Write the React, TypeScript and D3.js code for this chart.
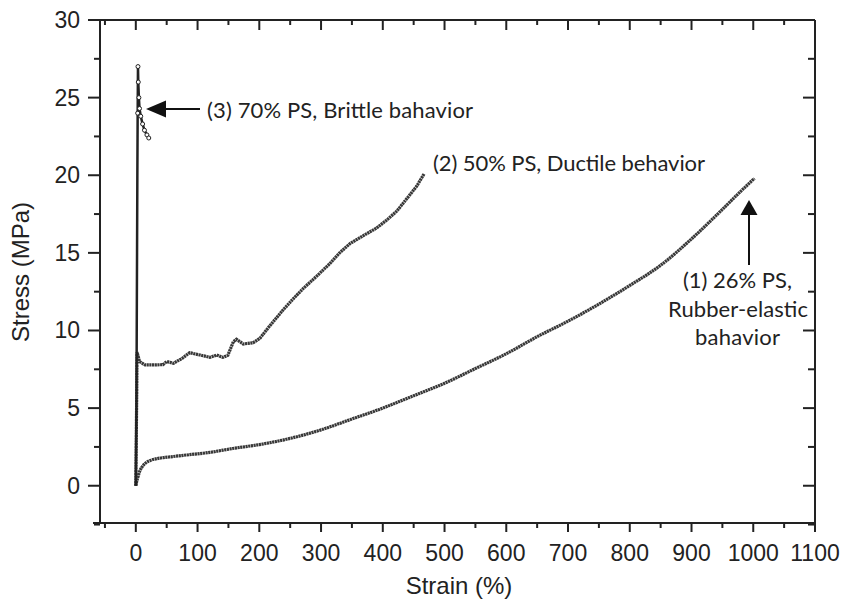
import React from "react";
import * as d3 from "d3";

const xTicks = [0, 100, 200, 300, 400, 500, 600, 700, 800, 900, 1000, 1100];
const xMinorTicks = [-50, 50, 150, 250, 350, 450, 550, 650, 750, 850, 950, 1050];
const yTicks = [0, 5, 10, 15, 20, 25, 30];
const yMinorTicks = [-2.5, 2.5, 7.5, 12.5, 17.5, 22.5, 27.5];

// (1) 26% PS — strain (%), stress (MPa)
const s1Strain = [0, 1, 3, 6, 10, 17, 25, 39, 60, 82, 120, 157, 200, 250, 300, 350, 400, 450, 500, 550, 600, 650, 700, 750, 800, 850, 900, 950, 978, 1002];
const s1Stress = [0, 0.2, 0.5, 0.9, 1.2, 1.5, 1.65, 1.78, 1.88, 1.98, 2.15, 2.4, 2.65, 3.05, 3.6, 4.3, 5.0, 5.8, 6.6, 7.55, 8.5, 9.6, 10.6, 11.7, 12.9, 14.2, 15.9, 17.8, 18.9, 19.8];

// (2) 50% PS
const s2Strain = [0, 0.5, 1, 1.5, 2, 6, 15, 28, 44, 50, 61, 75, 87, 104, 120, 131, 141, 149, 158, 163, 174, 190, 201, 217, 238, 254, 271, 293, 314, 330, 347, 368, 390, 406, 423, 439, 455, 467];
const s2Stress = [0, 2, 4, 6, 8.6, 8.0, 7.78, 7.78, 7.8, 8.0, 7.89, 8.2, 8.57, 8.42, 8.27, 8.42, 8.27, 8.4, 9.28, 9.43, 9.13, 9.21, 9.5, 10.3, 11.3, 12.0, 12.7, 13.5, 14.3, 15.0, 15.6, 16.1, 16.6, 17.1, 17.7, 18.5, 19.3, 20.1];

// (3) 70% PS
const s3Strain = [0, 1, 1.5, 2, 2.5, 3, 3.5, 4, 5, 6, 8, 11, 14, 18, 21];
const s3Stress = [0, 5, 10, 15, 20, 24, 27, 26, 25, 24.3, 23.8, 23.3, 22.9, 22.6, 22.4];

const W = 845;
const H = 601;

export default function App() {
  const x = d3.scaleLinear().domain([-58, 1100]).range([100, 815]);
  const y = d3.scaleLinear().domain([-2.4, 30]).range([523, 20]);
  const line = d3
    .line<[number, number]>()
    .x((d) => x(d[0]))
    .y((d) => y(d[1]))
    .curve(d3.curveMonotoneX);
  const lineLin = d3
    .line<[number, number]>()
    .x((d) => x(d[0]))
    .y((d) => y(d[1]));

  const d1 = s1Strain.map((s, i) => [s, s1Stress[i]] as [number, number]);
  const d2 = s2Strain.map((s, i) => [s, s2Stress[i]] as [number, number]);
  const d3p = s3Strain.map((s, i) => [s, s3Stress[i]] as [number, number]);

  const left = 100, right = 815, top = 20, bottom = 523;
  const axisColor = "#222";
  const axisFont = "'Liberation Sans', Arial, Helvetica, sans-serif";
  const annFont = "Lato, 'Open Sans', sans-serif";
  const curveColor = "#383838";

  return (
    <svg width={W} height={H} style={{ display: "block", position: "absolute", left: 0, top: 0, background: "#fff" }}>
      {/* frame */}
      <g stroke={axisColor} strokeWidth={2} fill="none">
        <line x1={left} y1={top} x2={left} y2={bottom} />
        <line x1={93} y1={bottom} x2={right} y2={bottom} />
        <line x1={left} y1={top} x2={right} y2={top} />
        <line x1={right} y1={top} x2={right} y2={bottom} />
        {yTicks.map((t) => (
          <line key={"yl" + t} x1={left - 12} x2={left} y1={y(t)} y2={y(t)} />
        ))}
        {yMinorTicks.map((t) => (
          <line key={"ylm" + t} x1={left - 6} x2={left} y1={y(t)} y2={y(t)} />
        ))}
        {yTicks.map((t) => (
          <line key={"yr" + t} x1={right - 12} x2={right} y1={y(t)} y2={y(t)} />
        ))}
        {yMinorTicks.map((t) => (
          <line key={"yrm" + t} x1={right - 7} x2={right} y1={y(t)} y2={y(t)} />
        ))}
        {xTicks.map((t) => (
          <line key={"xb" + t} x1={x(t)} x2={x(t)} y1={bottom} y2={bottom + 9} />
        ))}
        {xMinorTicks.map((t) => (
          <line key={"xbm" + t} x1={x(t)} x2={x(t)} y1={bottom} y2={bottom + 5} />
        ))}
        {xTicks.map((t) => (
          <line key={"xt" + t} x1={x(t)} x2={x(t)} y1={top} y2={top + 10} />
        ))}
        {xMinorTicks.map((t) => (
          <line key={"xtm" + t} x1={x(t)} x2={x(t)} y1={top} y2={top + 5} />
        ))}
      </g>

      {/* tick labels */}
      <g fontFamily={axisFont} fontSize={23} fill="#222">
        {yTicks.map((t) => (
          <text key={"ytl" + t} x={80} y={y(t) + 8} textAnchor="end">
            {t}
          </text>
        ))}
        {xTicks.map((t) => (
          <text key={"xtl" + t} x={x(t)} y={561} textAnchor="middle">
            {t}
          </text>
        ))}
      </g>

      {/* axis titles */}
      <text x={459} y={594} textAnchor="middle" fontFamily={axisFont} fontSize={24} fill="#222">
        Strain (%)
      </text>
      <text
        transform="translate(29,272) rotate(-90)"
        textAnchor="middle"
        fontFamily={axisFont}
        fontSize={24}
        fill="#222"
      >
        Stress (MPa)
      </text>

      {/* curves */}
      <path d={line(d1) || ""} fill="none" stroke={curveColor} strokeWidth={3.2} strokeDasharray="2.2 0.5" />
      <path d={lineLin(d2) || ""} fill="none" stroke={curveColor} strokeWidth={3.2} strokeDasharray="2.2 0.5" />
      <path d={lineLin(d3p) || ""} fill="none" stroke="#222" strokeWidth={2.5} />
      {d3p
        .filter((d) => d[1] > 22)
        .map((d, i) => (
          <circle key={"c" + i} cx={x(d[0])} cy={y(d[1])} r={2} fill="#fff" stroke="#222" strokeWidth={1} />
        ))}

      {/* annotations */}
      <g fontFamily={annFont} fontSize={22} fill="#222">
        <text x={207} y={118} textLength={266}>
          (3) 70% PS, Brittle bahavior
        </text>
        <text x={433} y={171} textLength={272}>
          (2) 50% PS, Ductile behavior
        </text>
        <text x={683} y={288} textLength={109}>
          (1) 26% PS,
        </text>
        <text x={668} y={317} textLength={140}>
          Rubber-elastic
        </text>
        <text x={695} y={345} textLength={85}>
          bahavior
        </text>
      </g>

      {/* arrows */}
      <g fill="#111" stroke="#111">
        <line x1={200} y1={109} x2={164} y2={109} strokeWidth={2} />
        <path d="M146,109 L166,100.5 L166,117.5 Z" stroke="none" />
        <line x1={749} y1={265} x2={749} y2={213} strokeWidth={2} />
        <path d="M749,200 L740.5,215 L757.5,215 Z" stroke="none" />
      </g>
    </svg>
  );
}
